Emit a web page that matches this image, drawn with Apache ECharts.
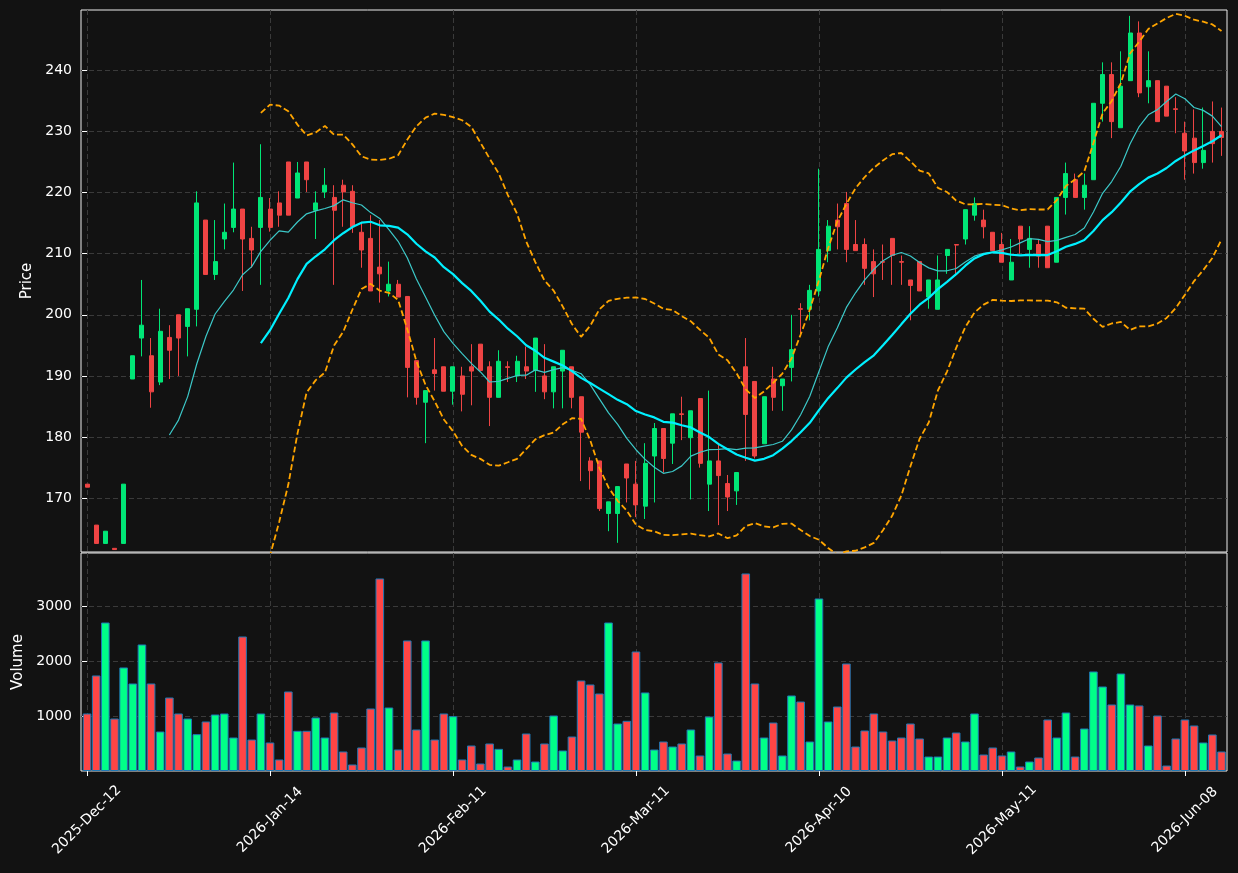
<!DOCTYPE html>
<html>
<head>
<meta charset="utf-8">
<script src="https://cdn.jsdelivr.net/npm/echarts@6/dist/echarts.min.js"></script>
<style>
html, body { margin: 0; padding: 0; background: #121212; }
#chart { width: 1238px; height: 873px; }
</style>
</head>
<body>
<div id="chart"></div>
<script>
// tick positions (bar index) and their date labels
var tickIdx = [0, 20, 40, 60, 80, 100, 120];
var tickLabels = ['2025-Dec-12', '2026-Jan-14', '2026-Feb-11', '2026-Mar-11', '2026-Apr-10', '2026-May-11', '2026-Jun-08'];
var priceTicks = [170, 180, 190, 200, 210, 220, 230, 240];
var volumeTicks = [1000, 2000, 3000];

var openData = [
  172.3, 165.6, 162.6, 161.8, 162.6, 189.5, 196.2, 193.3, 189.0, 196.3,
  200.0, 198.1, 200.9, 215.5, 206.6, 212.4, 214.3, 217.3, 212.5, 214.3,
  217.3, 218.3, 225.0, 219.1, 225.0, 217.1, 220.1, 219.2, 221.2, 220.2,
  213.5, 212.5, 207.8, 203.9, 205.0, 203.0, 192.5, 185.7, 191.0, 191.5,
  187.5, 190.0, 191.5, 195.2, 191.5, 186.5, 191.5, 190.0, 191.5, 190.9,
  190.0, 187.4, 190.8, 191.5, 186.6, 176.1, 176.1, 167.5, 167.5, 175.6,
  172.3, 168.7, 176.9, 181.4, 179.0, 183.8, 179.9, 186.3, 172.3, 176.1,
  172.4, 171.2, 191.5, 189.1, 178.9, 189.5, 188.4, 191.4, 201.0, 200.9,
  203.9, 210.5, 215.5, 218.2, 211.5, 211.5, 208.7, 208.7, 212.5, 208.7,
  205.7, 208.7, 202.9, 200.9, 209.7, 211.5, 212.4, 216.3, 215.5, 213.5,
  211.5, 205.7, 214.5, 210.7, 211.5, 214.5, 208.6, 219.2, 222.1, 219.2,
  222.1, 234.6, 239.3, 230.6, 238.3, 246.1, 237.3, 238.3, 237.4, 233.7,
  229.7, 228.9, 224.9, 230.0, 230.0
];
var closeData = [
  171.8, 162.6, 164.6, 161.6, 172.3, 193.3, 198.3, 187.4, 197.3, 194.2,
  196.2, 201.0, 218.3, 206.6, 208.7, 213.5, 217.3, 212.4, 210.6, 219.2,
  214.3, 216.3, 216.3, 223.2, 222.1, 218.3, 221.2, 217.1, 220.1, 214.4,
  210.6, 203.9, 206.7, 205.0, 202.9, 191.4, 186.5, 187.6, 190.4, 187.5,
  191.5, 187.0, 190.8, 190.9, 186.5, 192.4, 191.4, 192.4, 190.8, 196.2,
  187.4, 191.5, 194.2, 186.5, 180.8, 174.5, 168.3, 169.4, 171.9, 173.3,
  168.9, 175.7, 181.4, 176.5, 183.8, 183.7, 184.3, 175.7, 176.1, 173.7,
  170.2, 174.2, 183.7, 176.9, 186.6, 186.5, 189.5, 194.3, 200.9, 204.0,
  210.7, 214.5, 214.4, 210.7, 210.5, 207.6, 206.7, 208.6, 209.7, 208.6,
  204.8, 203.9, 205.7, 205.7, 210.7, 211.4, 217.2, 218.2, 214.4, 210.5,
  208.6, 208.6, 212.4, 212.5, 209.6, 207.7, 219.2, 223.1, 219.2, 221.2,
  234.6, 239.3, 231.6, 237.4, 246.1, 236.3, 238.3, 231.6, 232.5, 233.6,
  226.8, 224.9, 226.9, 228.0, 229.0
];
var lowData = [
  171.8, 162.6, 162.6, 161.6, 162.6, 189.5, 193.2, 184.8, 188.5, 189.5,
  190.0, 193.2, 198.1, 206.6, 205.7, 210.7, 213.5, 203.9, 207.7, 204.9,
  213.6, 214.4, 216.3, 219.1, 220.1, 212.4, 219.1, 204.9, 214.4, 213.4,
  207.7, 203.9, 202.0, 203.0, 202.9, 186.5, 185.3, 179.0, 187.6, 187.5,
  185.3, 184.2, 185.2, 190.9, 181.8, 186.5, 189.0, 189.0, 189.5, 187.4,
  186.2, 184.7, 184.7, 184.7, 172.8, 171.4, 167.9, 164.6, 162.7, 169.3,
  166.9, 166.6, 169.3, 174.2, 175.6, 179.5, 169.8, 175.0, 167.9, 165.6,
  167.9, 168.9, 176.1, 176.5, 178.9, 184.3, 184.3, 189.1, 196.9, 199.1,
  203.0, 208.6, 210.7, 208.6, 210.5, 204.9, 202.9, 205.7, 204.9, 204.9,
  199.1, 203.9, 201.0, 200.9, 206.7, 206.7, 211.5, 215.4, 212.5, 210.5,
  208.6, 205.7, 210.0, 207.7, 207.7, 207.7, 208.6, 216.4, 219.2, 217.2,
  222.1, 231.6, 228.9, 230.6, 238.3, 235.6, 234.6, 231.6, 232.5, 229.7,
  222.1, 223.1, 223.9, 224.9, 226.0
];
var highData = [
  172.3, 165.6, 164.6, 161.8, 172.3, 193.3, 205.7, 196.2, 201.0, 198.3,
  200.0, 201.0, 220.2, 215.5, 215.5, 218.2, 224.9, 217.3, 214.4, 227.9,
  219.1, 220.2, 225.0, 225.0, 225.0, 220.2, 224.0, 221.2, 222.1, 221.2,
  215.2, 216.3, 215.5, 208.7, 205.7, 203.0, 192.5, 187.6, 196.2, 191.5,
  191.5, 191.5, 195.2, 195.2, 192.4, 194.2, 192.4, 193.3, 194.8, 196.2,
  195.2, 191.5, 194.2, 191.5, 186.6, 176.7, 176.1, 169.4, 171.9, 175.6,
  176.1, 179.0, 182.3, 181.4, 183.8, 186.6, 184.3, 186.3, 187.6, 178.9,
  173.8, 174.2, 196.2, 189.1, 186.6, 191.5, 189.5, 200.0, 201.9, 204.9,
  223.9, 215.5, 218.2, 220.1, 215.5, 212.5, 210.7, 211.5, 212.5, 209.7,
  205.7, 208.7, 205.7, 209.7, 210.7, 211.5, 217.2, 219.2, 217.2, 213.5,
  213.4, 212.4, 214.5, 214.5, 212.4, 214.5, 219.2, 224.9, 223.1, 223.1,
  234.6, 241.3, 241.3, 243.1, 248.9, 248.0, 243.1, 238.3, 237.4, 235.6,
  231.6, 233.6, 233.9, 234.9, 233.9
];
var volumeData = [
  1049, 1742, 2708, 957, 1888, 1596, 2307, 1596, 720, 1340,
  1049, 957, 672, 903, 1030, 1049, 611, 2453, 574, 1049,
  520, 210, 1450, 733, 733, 976, 611, 1067, 356, 119,
  429, 1140, 3511, 1158, 392, 2380, 757, 2380, 574, 1049,
  1000, 210, 465, 137, 502, 404, 82, 210, 684, 173,
  502, 1012, 374, 629, 1650, 1578, 1413, 2708, 866, 915,
  2179, 1432, 392, 538, 447, 502, 757, 283, 993, 1979,
  319, 191, 3602, 1596, 611, 884, 283, 1377, 1267, 538,
  3146, 903, 1176, 1960, 447, 739, 1049, 720, 556, 611,
  866, 593, 264, 264, 611, 702, 538, 1049, 301, 429,
  283, 356, 82, 173, 246, 939, 611, 1067, 264, 775,
  1815, 1541, 1213, 1778, 1213, 1195, 465, 1012, 100, 593,
  939, 830, 520, 666, 356
];

var UP = '#00e676', DOWN = '#ef4444';
var VOL_UP = '#00ff88', VOL_DOWN = '#ff4545';
var FONT = 'DejaVu Sans';

// moving average and bollinger bands from the close values
function rolling(n, fn) {
  var out = [];
  for (var i = n - 1; i < closeData.length; i++) {
    var win = closeData.slice(i - n + 1, i + 1);
    var mean = win.reduce(function (a, b) { return a + b; }, 0) / n;
    var sd = Math.sqrt(win.reduce(function (a, b) { return a + (b - mean) * (b - mean); }, 0) / n);
    out.push([i, fn(mean, sd)]);
  }
  return out;
}

var candles = openData.map(function (o, i) {
  return [i, o, closeData[i], lowData[i], highData[i]];
});
var vols = volumeData.map(function (v, i) {
  return [i, v];
});

var gridLine = { show: true, lineStyle: { color: '#3a3a3a', type: [5, 3], width: 1 } };
var labelStyle = { color: '#ffffff', fontFamily: FONT, fontSize: 14 };
var nameStyle = { color: '#ffffff', fontFamily: FONT, fontSize: 15 };

var chart = echarts.init(document.getElementById('chart'));
chart.setOption({
  backgroundColor: '#121212',
  animation: false,
  grid: [
    { left: 81, top: 10, width: 1146, height: 542, show: true, borderColor: '#ececec', borderWidth: 1 },
    { left: 81, top: 553, width: 1146, height: 218, show: true, borderColor: '#ececec', borderWidth: 1 }
  ],
  xAxis: [
    {
      type: 'value', gridIndex: 0, min: -0.66, max: 124.6,
      axisLine: { show: false },
      axisTick: { show: false, customValues: tickIdx },
      axisLabel: { show: false, customValues: tickIdx },
      splitLine: gridLine
    },
    {
      type: 'value', gridIndex: 1, min: -0.66, max: 124.6,
      axisLine: { show: false },
      axisTick: { show: true, length: 5, customValues: tickIdx, lineStyle: { color: '#ffffff' } },
      axisLabel: Object.assign({
        customValues: tickIdx, rotate: 45, margin: 49,
        align: 'center', verticalAlign: 'middle',
        formatter: function (v) { return tickLabels[tickIdx.indexOf(v)]; }
      }, labelStyle),
      splitLine: gridLine
    }
  ],
  yAxis: [
    {
      type: 'value', gridIndex: 0, min: 161.2, max: 249.86,
      name: 'Price', nameLocation: 'middle', nameGap: 44, nameRotate: 90,
      nameTextStyle: nameStyle,
      axisLine: { show: false },
      axisTick: { show: true, length: 5, customValues: priceTicks, lineStyle: { color: '#ffffff' } },
      axisLabel: Object.assign({ customValues: priceTicks, margin: 9 }, labelStyle),
      splitLine: gridLine
    },
    {
      type: 'value', gridIndex: 1, min: 0, max: 3975,
      name: 'Volume', nameLocation: 'middle', nameGap: 55, nameRotate: 90,
      nameTextStyle: nameStyle,
      axisLine: { show: false },
      axisTick: { show: true, length: 5, customValues: volumeTicks, lineStyle: { color: '#ffffff' } },
      axisLabel: Object.assign({
        customValues: volumeTicks, margin: 9,
        formatter: function (v) { return String(v); }
      }, labelStyle),
      splitLine: gridLine
    }
  ],
  series: [
    {
      type: 'line', xAxisIndex: 0, yAxisIndex: 0,
      data: rolling(20, function (m, s) { return m + 2 * s; }),
      symbol: 'none', clip: true,
      lineStyle: { color: '#ffa500', width: 1.8, type: [6, 3] }
    },
    {
      type: 'line', xAxisIndex: 0, yAxisIndex: 0,
      data: rolling(20, function (m, s) { return m - 2 * s; }),
      symbol: 'none', clip: true,
      lineStyle: { color: '#ffa500', width: 1.8, type: [6, 3] }
    },
    {
      type: 'candlestick', xAxisIndex: 0, yAxisIndex: 0,
      data: candles, barWidth: 4.5, clip: true,
      encode: { x: 0, y: [1, 2, 3, 4] },
      itemStyle: { color: UP, color0: DOWN, borderColor: UP, borderColor0: DOWN, borderWidth: 1 }
    },
    {
      type: 'line', xAxisIndex: 0, yAxisIndex: 0,
      data: rolling(10, function (m) { return m; }),
      symbol: 'none', clip: true,
      lineStyle: { color: '#3cc8c8', width: 1.2 }
    },
    {
      type: 'line', xAxisIndex: 0, yAxisIndex: 0,
      data: rolling(20, function (m) { return m; }),
      symbol: 'none', clip: true,
      lineStyle: { color: '#00f0ff', width: 2.2 }
    },
    {
      type: 'bar', xAxisIndex: 1, yAxisIndex: 1,
      data: vols, barWidth: 8.6,
      itemStyle: {
        borderColor: '#1f77b4', borderWidth: 1,
        color: function (p) {
          var i = p.dataIndex;
          return closeData[i] >= openData[i] ? VOL_UP : VOL_DOWN;
        }
      }
    }
  ]
});
</script>
</body>
</html>
